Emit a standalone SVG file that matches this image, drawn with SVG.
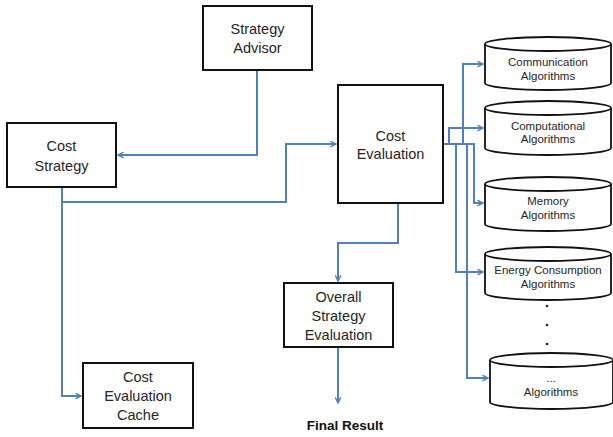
<svg xmlns="http://www.w3.org/2000/svg" width="613" height="437" viewBox="0 0 613 437">
<defs>
<marker id="arr" viewBox="0 0 10 10" refX="9" refY="5" markerWidth="7" markerHeight="7" orient="auto" markerUnits="userSpaceOnUse">
<path d="M1,1 L9,5 L1,9" fill="none" stroke="#4f81bd" stroke-width="2"/>
</marker>
<style>
.box{fill:#fff;stroke:#111;stroke-width:2}
.cyl{fill:#fff;stroke:#111;stroke-width:1.8}
.t{font-family:"Liberation Sans",Arial,sans-serif;font-size:14.5px;fill:#262626;text-anchor:middle}
.s{font-family:"Liberation Sans",Arial,sans-serif;font-size:11.5px;fill:#262626;text-anchor:middle}
.c{fill:none;stroke:#4f81bd;stroke-width:2}
</style>
</defs>
<rect width="613" height="437" fill="#fff"/>
<g id="connectors">
<path class="c" d="M257,70 V155 H118" marker-end="url(#arr)"/>
<path class="c" d="M62,187 V202 H286 V144 H336" marker-end="url(#arr)"/>
<path class="c" d="M62,202 V396 H81" marker-end="url(#arr)"/>
<path class="c" d="M398,203 V243 H338 V281" marker-end="url(#arr)"/>
<path class="c" d="M338,347 V403" marker-end="url(#arr)"/>
<path class="c" d="M443,144 H463 V64 H483" marker-end="url(#arr)"/>
<path class="c" d="M449,144 V128 H483" marker-end="url(#arr)"/>
<path class="c" d="M443,144 H474 V203 H483" marker-end="url(#arr)"/>
<path class="c" d="M456,144 V272 H483" marker-end="url(#arr)"/>
<path class="c" d="M467,144 V378 H488" marker-end="url(#arr)"/>
</g>
<g id="strategy-advisor">
<rect class="box" x="203" y="6" width="109" height="64"/>
<text class="t" x="257.5" y="34">Strategy</text>
<text class="t" x="257.5" y="53">Advisor</text>
</g>
<g id="cost-strategy">
<rect class="box" x="7" y="123" width="109" height="64"/>
<text class="t" x="61.5" y="151">Cost</text>
<text class="t" x="61.5" y="171">Strategy</text>
</g>
<g id="cost-evaluation">
<rect class="box" x="338" y="85" width="105" height="118"/>
<text class="t" x="390.5" y="141">Cost</text>
<text class="t" x="390.5" y="159">Evaluation</text>
</g>
<g id="cost-evaluation-cache">
<rect class="box" x="83" y="363" width="110" height="65"/>
<text class="t" x="138" y="382">Cost</text>
<text class="t" x="138" y="401">Evaluation</text>
<text class="t" x="138" y="420">Cache</text>
</g>
<g id="overall-strategy-evaluation">
<rect class="box" x="284" y="283" width="109" height="64"/>
<text class="t" x="338.5" y="302">Overall</text>
<text class="t" x="338.5" y="321">Strategy</text>
<text class="t" x="338.5" y="340">Evaluation</text>
</g>
<g id="final-result">
<text x="345" y="430" font-family="Liberation Sans,Arial,sans-serif" font-size="13.5" font-weight="bold" fill="#111" text-anchor="middle">Final Result</text>
</g>
<g id="communication-algorithms">
<path class="cyl" d="M485,44 V83 A63,7 0 0 0 611,83 V44"/>
<ellipse class="cyl" cx="548" cy="44" rx="63" ry="7"/>
<text class="s" x="548" y="66">Communication</text>
<text class="s" x="548" y="80">Algorithms</text>
</g>
<g id="computational-algorithms">
<path class="cyl" d="M485,108 V148 A63,7 0 0 0 611,148 V108"/>
<ellipse class="cyl" cx="548" cy="108" rx="63" ry="7"/>
<text class="s" x="548" y="130">Computational</text>
<text class="s" x="548" y="143">Algorithms</text>
</g>
<g id="memory-algorithms">
<path class="cyl" d="M485,184 V224 A63,7 0 0 0 611,224 V184"/>
<ellipse class="cyl" cx="548" cy="184" rx="63" ry="7"/>
<text class="s" x="548" y="205">Memory</text>
<text class="s" x="548" y="219">Algorithms</text>
</g>
<g id="energy-consumption-algorithms">
<path class="cyl" d="M485,254 V293 A63,7 0 0 0 611,293 V254"/>
<ellipse class="cyl" cx="548" cy="254" rx="63" ry="7"/>
<text class="s" x="548" y="274">Energy Consumption</text>
<text class="s" x="548" y="288">Algorithms</text>
</g>
<g id="dots" fill="#222">
<circle cx="547" cy="306" r="1.3"/>
<circle cx="547" cy="325" r="1.3"/>
<circle cx="547" cy="344" r="1.3"/>
</g>
<g id="more-algorithms">
<path class="cyl" d="M490,360 V402 A61.5,7 0 0 0 613,402 V360"/>
<ellipse class="cyl" cx="551.5" cy="360" rx="61.5" ry="7"/>
<text class="s" x="551" y="382">...</text>
<text class="s" x="551" y="396">Algorithms</text>
</g>
</svg>
